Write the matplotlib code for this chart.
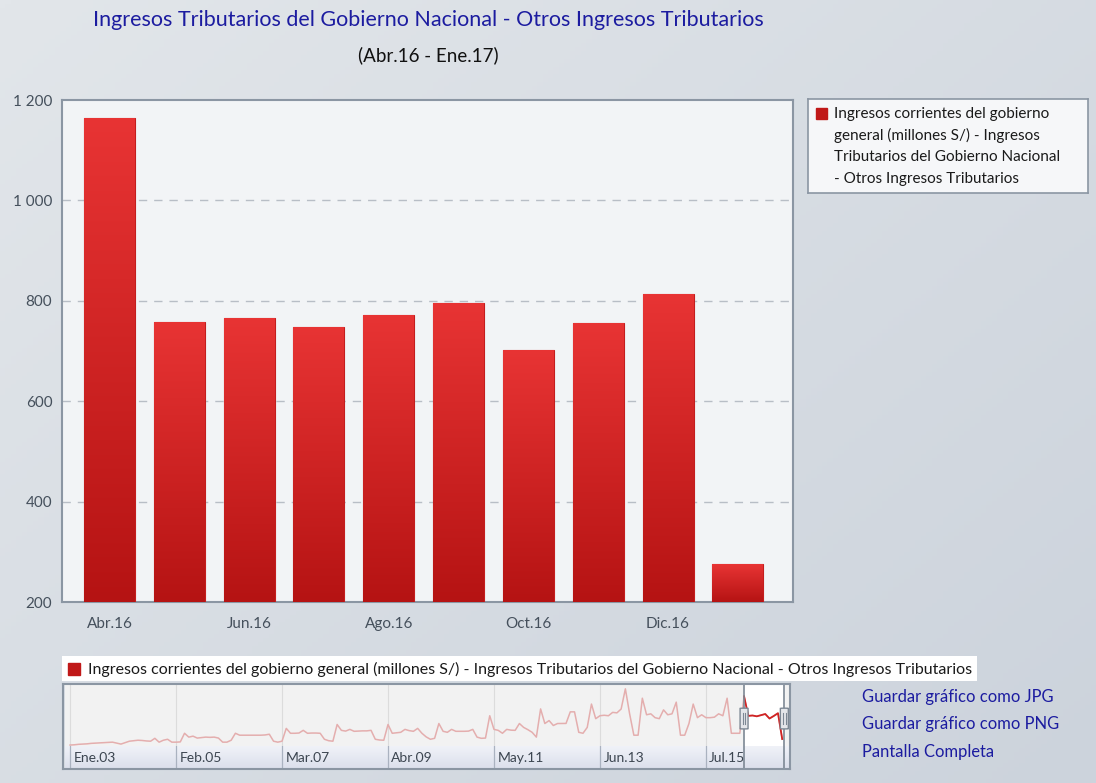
import numpy as np
import matplotlib.pyplot as plt
from matplotlib.colors import LinearSegmentedColormap
from matplotlib.patches import Rectangle, FancyBboxPatch, Circle
from matplotlib.ticker import FuncFormatter

# Otros Ingresos Tributarios, millones S/
meses = ['Abr.16', 'May.16', 'Jun.16', 'Jul.16', 'Ago.16', 'Sep.16',
         'Oct.16', 'Nov.16', 'Dic.16', 'Ene.17']
valores = [1165, 758, 765, 748, 772, 796, 702, 755, 813, 275]

# serie mensual completa Ene.03 - Ene.17 (navegador)
historico = [
    150, 155, 165, 170, 175, 185, 190, 195, 200, 205, 210, 190,
    170, 200, 230, 240, 250, 245, 235, 230, 290, 210, 250, 270,
    210, 210, 215, 395, 315, 335, 295, 305, 315, 310, 315, 295,
    210, 210, 250, 395, 355, 355, 355, 355, 355, 355, 360, 375,
    230, 210, 230, 497, 395, 395, 400, 456, 395, 400, 400, 395,
    270, 240, 230, 578, 456, 440, 476, 436, 440, 445, 445, 456,
    270, 255, 250, 578, 395, 405, 415, 476, 450, 436, 497, 395,
    320, 270, 290, 598, 436, 415, 476, 436, 436, 436, 440, 476,
    315, 290, 295, 760, 476, 456, 395, 476, 460, 456, 598, 517,
    470, 415, 315, 902, 598, 659, 557, 598, 598, 600, 841, 841,
    415, 395, 517, 1003, 699, 760, 770, 760, 830, 820, 900, 1320,
    800, 355, 355, 1125, 780, 800, 720, 699, 882, 780, 800, 1043,
    355, 355, 598, 1003, 720, 780, 720, 720, 730, 800, 760, 1125,
    395, 395, 395, 1165, 758, 765, 748, 772, 796, 702, 755, 813,
    275,
]
etiquetas_nav = ['Ene.03', 'Feb.05', 'Mar.07', 'Abr.09', 'May.11', 'Jun.13', 'Jul.15']

titulo = 'Ingresos Tributarios del Gobierno Nacional - Otros Ingresos Tributarios'
subtitulo = '(Abr.16 - Ene.17)'
serie = ('Ingresos corrientes del gobierno general (millones S/) - '
         'Ingresos Tributarios del Gobierno Nacional - Otros Ingresos Tributarios')
serie_leyenda = ['Ingresos corrientes del gobierno', 'general (millones S/) - Ingresos',
                 'Tributarios del Gobierno Nacional', '- Otros Ingresos Tributarios']
enlaces = ['Guardar gráfico como JPG', 'Guardar gráfico como PNG', 'Pantalla Completa']

plt.rcParams['font.family'] = ['Lato', 'DejaVu Sans']

W, H = 1096, 783
AZUL = '#1c1ca0'
BORDE = '#8b96a3'


def caja(x0, y0, x1, y1):
    # coordenadas en pixeles (origen arriba a la izquierda) -> fraccion de figura
    return [x0 / W, 1 - y1 / H, (x1 - x0) / W, (y1 - y0) / H]


fig = plt.figure(figsize=(W / 100, H / 100), dpi=100)

# fondo degradado
fondo = fig.add_axes([0, 0, 1, 1], zorder=-10)
gx, gy = np.meshgrid(np.linspace(0, 1, 200), np.linspace(0, 1, 200))
cmap_fondo = LinearSegmentedColormap.from_list('fondo', ['#e2e6ea', '#ccd3dc'])
fondo.imshow(0.55 * gx + 0.45 * gy, cmap=cmap_fondo, aspect='auto',
             extent=[0, 1, 1, 0], origin='upper')
fondo.set_xlim(0, 1)
fondo.set_ylim(1, 0)
fondo.axis('off')

# marca de agua
fondo.add_patch(Circle((118 / W, 50 / H), 0.036, transform=fondo.transAxes,
                       fill=False, ec='white', lw=1.5, alpha=0.45))
fondo.text(118 / W, 52 / H, 'BCR', transform=fondo.transAxes, ha='center', va='center',
           fontsize=22, color='white', alpha=0.35, family='DejaVu Serif', style='italic')

# titulos
fig.text(428 / W, 1 - 20 / H, titulo, ha='center', va='center', fontsize=15.5, color=AZUL)
fig.text(428 / W, 1 - 55 / H, subtitulo, ha='center', va='center', fontsize=13.5, color='#111111')

# ---- grafico principal ----
ax = fig.add_axes(caja(62, 100, 793, 602))
ax.set_facecolor('#f2f4f6')
x = np.arange(len(valores))
ancho = 0.73
barras = ax.bar(x, valores, width=ancho, color='#d02020', edgecolor='#c41d1d',
                linewidth=0.8, zorder=3)

cmap_barra = LinearSegmentedColormap.from_list('barra', ['#b51313', '#e83434'])
grad = np.linspace(0, 1, 256).reshape(-1, 1)
for xi, v, b in zip(x, valores, barras):
    im = ax.imshow(grad, cmap=cmap_barra, aspect='auto', origin='lower',
                   extent=[xi - ancho / 2, xi + ancho / 2, 200, v], zorder=3.5)
    im.set_clip_path(b)

ax.set_xlim(-0.68, 9.79)
ax.set_ylim(200, 1200)
ax.set_yticks(range(200, 1201, 200))
ax.yaxis.set_major_formatter(FuncFormatter(lambda v, p: f'{int(v):,}'.replace(',', ' ')))
ax.set_xticks(x[::2])
ax.set_xticklabels(meses[::2])
ax.tick_params(length=0, labelsize=11, labelcolor='#45505c')
ax.tick_params(axis='y', pad=7)
ax.tick_params(axis='x', pad=11)
for v in range(400, 1001, 200):
    ax.axhline(v, color='#b8bec6', lw=1, ls=(0, (6, 5)), zorder=1)
for s in ax.spines.values():
    s.set_color(BORDE)
    s.set_linewidth(1.5)

# leyenda
ley = fig.add_axes(caja(808, 99, 1088, 193))
ley.set_facecolor('#f6f7f9')
ley.set_xticks([])
ley.set_yticks([])
for s in ley.spines.values():
    s.set_color(BORDE)
    s.set_linewidth(1.2)
ley.add_patch(Rectangle((8 / 280, 1 - 20 / 94), 11 / 280, 11 / 94,
                        transform=ley.transAxes, color='#c01818'))
for i, linea in enumerate(serie_leyenda):
    ley.text(26 / 280, 1 - (15 + i * 21.7) / 94, linea, transform=ley.transAxes,
             ha='left', va='center', fontsize=11, color='#1a1a1a')

# ---- navegador ----
cinta = fig.add_axes(caja(62, 656, 977, 681))
cinta.set_facecolor('white')
cinta.set_xticks([])
cinta.set_yticks([])
for s in cinta.spines.values():
    s.set_visible(False)
cinta.add_patch(Rectangle((6 / 915, 0.24), 12 / 915, 0.5, transform=cinta.transAxes,
                          color='#c01818'))
cinta.text(26 / 915, 0.48, serie, transform=cinta.transAxes, ha='left', va='center',
           fontsize=11.5, color='#1a1a1a')

n = len(historico)
xn = np.arange(n)
sel0 = n - len(valores)
pos_etiq = np.arange(len(etiquetas_nav)) * 25
xlim_nav = (-1.2, n + 0.6)

nav = fig.add_axes(caja(65, 685, 789, 746))
nav.set_facecolor('#f2f2f2')
nav.axvspan(sel0, n - 0.5, color='white', zorder=0.5)
for p in pos_etiq:
    nav.axvline(p, color='#dcdcdc', lw=0.8, zorder=0.6)
nav.plot(xn, historico, color='#e4aeae', lw=1.1, zorder=2)
nav.plot(xn[sel0:], historico[sel0:], color='#d02424', lw=1.3, zorder=3)
nav.set_xlim(*xlim_nav)
nav.set_ylim(130, 1400)
nav.set_xticks([])
nav.set_yticks([])
for s in nav.spines.values():
    s.set_visible(False)

eje = fig.add_axes(caja(65, 746, 789, 768))
cmap_eje = LinearSegmentedColormap.from_list('eje', ['#dce0ec', '#f0f2f8'])
eje.imshow(np.linspace(0, 1, 64).reshape(-1, 1), cmap=cmap_eje, aspect='auto',
           origin='lower', extent=[xlim_nav[0], xlim_nav[1], 0, 1])
eje.set_xlim(*xlim_nav)
eje.set_ylim(0, 1)
for p, et in zip(pos_etiq, etiquetas_nav):
    eje.axvline(p, color='#aab2c0', lw=0.9)
    eje.text(p + 0.8, 0.45, et, ha='left', va='center', fontsize=10, color='#3c4550')
eje.set_xticks([])
eje.set_yticks([])
for s in eje.spines.values():
    s.set_visible(False)

# marco del navegador
marco = fig.add_axes(caja(63, 684, 790, 769), zorder=5)
marco.patch.set_alpha(0)
marco.set_xticks([])
marco.set_yticks([])
for s in marco.spines.values():
    s.set_color(BORDE)
    s.set_linewidth(1.5)

# limites de la seleccion y manijas
for xs in (sel0, n - 0.5):
    nav.axvline(xs, color='#7d8894', lw=1.2, zorder=4)
    eje.axvline(xs, color='#7d8894', lw=1.2, zorder=4)
    hx = (xs - xlim_nav[0]) / (xlim_nav[1] - xlim_nav[0])
    nav.add_patch(FancyBboxPatch((hx - 0.0055, 0.28), 0.011, 0.34,
                                 boxstyle='round,pad=0,rounding_size=0.004',
                                 transform=nav.transAxes, fc='#e4e6ea', ec='#7d8894',
                                 lw=1, zorder=5))
    for dx in (-0.0018, 0.0018):
        nav.plot([hx + dx, hx + dx], [0.36, 0.54], transform=nav.transAxes,
                 color='#7d8894', lw=0.8, zorder=6)

# enlaces
for i, t in enumerate(enlaces):
    fig.text(862 / W, 1 - (697 + i * 27.5) / H, t, ha='left', va='center',
             fontsize=11.9, color=AZUL)

fig.savefig('out.png', dpi=100)
